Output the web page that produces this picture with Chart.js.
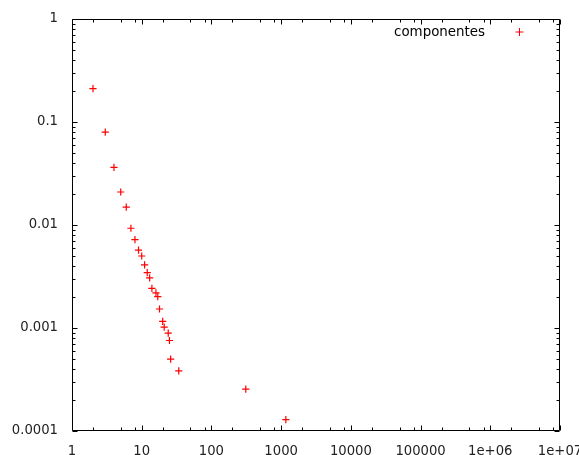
<!DOCTYPE html>
<html>
<head>
<meta charset="utf-8">
<script src="https://cdn.jsdelivr.net/npm/chart.js@4.4.0/dist/chart.umd.min.js"></script>
<style>
html,body{margin:0;padding:0;background:#fff;}
#wrap{width:579px;height:455px;position:relative;}
</style>
</head>
<body>
<div id="wrap"><canvas id="c" width="579" height="455"></canvas></div>
<script>
const seriesName = "componentes";
const xValues = [2,3,4,5,6,7,8,9,10,11,12,13,14,16,17,18,20,21,24,25,26,34,311,1168];
const yValues = [0.211,0.0797,0.0362,0.0209,0.0149,0.0093,0.0072,0.0057,0.0050,0.0041,0.00345,0.00306,0.00243,0.00219,0.00202,0.00153,0.00116,0.00102,0.00089,0.000756,0.000499,0.000384,0.000255,0.000129];
const xTickValues = [1,10,100,1000,10000,100000,1000000,10000000];
const xTickLabels = ["1","10","100","1000","10000","100000","1e+06","1e+07"];
const yTickValues = [0.0001,0.001,0.01,0.1,1];
const yTickLabels = ["0.0001","0.001","0.01","0.1","1"];
const xMinorMults = [2,5,8];
const yMinorMults = [2,3,4,5,6,7,8,9];

const FONT = "'DejaVu Sans', sans-serif";
const points = xValues.map((x,i)=>({x:x,y:yValues[i]}));

const framePlugin = {
  id:'frame',
  afterDraw(chart){
    const ctx = chart.ctx;
    const a = chart.chartArea;
    const xs = chart.scales.x, ys = chart.scales.y;
    ctx.save();
    ctx.strokeStyle = '#000';
    ctx.lineWidth = 1;
    const L = Math.round(a.left)+0.5, R = Math.round(a.right)-0.5;
    const T = Math.round(a.top)+0.5, B = Math.round(a.bottom)-0.5;
    ctx.beginPath();
    ctx.rect(L,T,R-L,B-T);
    ctx.stroke();
    const major = 5, minor = 3;
    ctx.beginPath();
    xTickValues.forEach((v)=>{
      const p = Math.round(xs.getPixelForValue(v))+0.5;
      ctx.moveTo(p,B); ctx.lineTo(p,B-major);
      ctx.moveTo(p,T); ctx.lineTo(p,T+major);
      if (v < xTickValues[xTickValues.length-1]) {
        xMinorMults.forEach(m=>{
          const q = Math.round(xs.getPixelForValue(v*m))+0.5;
          ctx.moveTo(q,B); ctx.lineTo(q,B-minor);
          ctx.moveTo(q,T); ctx.lineTo(q,T+minor);
        });
      }
    });
    yTickValues.forEach((v)=>{
      const p = Math.round(ys.getPixelForValue(v))+0.5;
      ctx.moveTo(L,p); ctx.lineTo(L+major,p);
      ctx.moveTo(R,p); ctx.lineTo(R-major,p);
      if (v < yTickValues[yTickValues.length-1]) {
        yMinorMults.forEach(m=>{
          const q = Math.round(ys.getPixelForValue(v*m))+0.5;
          ctx.moveTo(L,q); ctx.lineTo(L+minor,q);
          ctx.moveTo(R,q); ctx.lineTo(R-minor,q);
        });
      }
    });
    ctx.stroke();
    ctx.fillStyle = '#000';
    ctx.font = '13.4px ' + FONT;
    ctx.textAlign = 'right';
    ctx.textBaseline = 'alphabetic';
    ctx.fillText(chart.data.datasets[0].label, 485, 36);
    ctx.strokeStyle = '#ff0000';
    ctx.beginPath();
    ctx.moveTo(515.5,32); ctx.lineTo(523.5,32);
    ctx.moveTo(519.5,28); ctx.lineTo(519.5,36);
    ctx.stroke();
    ctx.restore();
  }
};

new Chart(document.getElementById('c'), {
  type:'scatter',
  data:{datasets:[{
    label: seriesName,
    data: points,
    pointStyle:'cross',
    pointRadius:3.6,
    pointHoverRadius:3.6,
    borderColor:'#ff0000',
    backgroundColor:'#ff0000',
    borderWidth:1.2
  }]},
  options:{
    responsive:false,
    animation:false,
    devicePixelRatio:1,
    layout:{padding:{left:0,right:19,top:19,bottom:0}},
    plugins:{legend:{display:false},tooltip:{enabled:false}},
    scales:{
      x:{
        type:'logarithmic',
        min:1, max:10000000,
        grid:{display:false, drawTicks:false},
        border:{display:false},
        afterBuildTicks:(s)=>{ s.ticks = xTickValues.map(v=>({value:v})); },
        afterFit:(s)=>{ s.height = 24; s.paddingLeft = 0; s.paddingRight = 0; },
        ticks:{
          autoSkip:false, maxRotation:0, padding:13, color:'#222',
          font:{family:FONT, size:13.2},
          callback:(v,i)=>xTickLabels[i]
        }
      },
      y:{
        type:'logarithmic',
        min:0.0001, max:1,
        grid:{display:false, drawTicks:false},
        border:{display:false},
        afterBuildTicks:(s)=>{ s.ticks = yTickValues.map(v=>({value:v})); },
        afterFit:(s)=>{ s.width = 72; s.paddingTop = 0; s.paddingBottom = 0; },
        ticks:{
          autoSkip:false, padding:14, color:'#222',
          font:{family:FONT, size:13.2},
          callback:(v,i)=>yTickLabels[i]
        }
      }
    }
  },
  plugins:[framePlugin]
});
</script>
</body>
</html>
